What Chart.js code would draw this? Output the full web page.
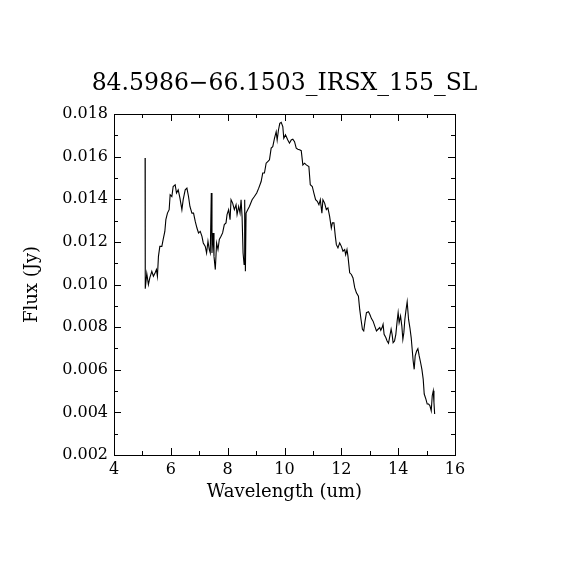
<!DOCTYPE html>
<html>
<head>
<meta charset="utf-8">
<script src="https://cdn.jsdelivr.net/npm/chart.js@4.4.1/dist/chart.umd.min.js"></script>
<style>
  body { margin: 0; background: #fff; }
  canvas { display: block; }
</style>
</head>
<body>
<canvas id="spectrumChart" width="570" height="570"></canvas>
<script>
const chartTitle = '84.5986\u221266.1503_IRSX_155_SL';

// wavelength in um
const wavelength = [5.094,5.100,5.154,5.211,5.260,5.331,5.387,5.447,5.493,5.528,5.564,5.613,5.684,5.729,5.789,5.825,5.881,5.941,5.976,6.036,
  6.082,6.153,6.199,6.259,6.319,6.389,6.435,6.506,6.566,6.622,6.672,6.742,6.799,6.859,6.919,6.975,7.035,7.095,7.141,7.212,
  7.258,7.307,7.353,7.388,7.424,7.448,7.484,7.519,7.565,7.611,7.660,7.706,7.766,7.822,7.882,7.942,7.978,8.034,8.084,8.119,
  8.175,8.235,8.295,8.331,8.387,8.436,8.472,8.507,8.542,8.578,8.599,8.624,8.648,8.705,8.765,8.860,8.941,9.022,9.093,9.178,
  9.234,9.294,9.354,9.411,9.471,9.531,9.587,9.647,9.707,9.742,9.788,9.834,9.884,9.940,9.975,10.035,10.116,10.176,10.236,10.293,
  10.353,10.413,10.469,10.529,10.589,10.646,10.706,10.766,10.858,10.907,10.978,11.034,11.094,11.154,11.211,11.260,11.316,11.352,11.412,11.472,
  11.528,11.588,11.648,11.684,11.740,11.789,11.825,11.881,11.941,12.001,12.058,12.118,12.153,12.199,12.234,12.294,12.354,12.411,12.471,12.531,
  12.601,12.647,12.693,12.742,12.788,12.834,12.884,12.955,13.000,13.060,13.117,13.177,13.236,13.293,13.353,13.388,13.434,13.469,13.505,13.565,
  13.611,13.660,13.706,13.752,13.787,13.822,13.872,13.918,13.964,13.999,14.034,14.084,14.129,14.165,14.200,14.235,14.271,14.317,14.366,14.412,
  14.458,14.493,14.528,14.564,14.599,14.649,14.694,14.740,14.789,14.835,14.881,14.917,14.976,15.022,15.072,15.118,15.164,15.199,15.235,15.259,
  15.284];

// flux in Jy
const flux = [0.01593,0.00980,0.01052,0.01000,0.01031,0.01062,0.01039,0.01055,0.01070,0.01039,0.01132,0.01179,0.01179,0.01211,0.01249,0.01304,0.01335,0.01351,0.01421,0.01413,
  0.01460,0.01468,0.01429,0.01444,0.01406,0.01351,0.01398,0.01444,0.01452,0.01413,0.01366,0.01335,0.01335,0.01296,0.01265,0.01242,0.01249,0.01226,0.01195,0.01179,
  0.01148,0.01203,0.01164,0.01148,0.01429,0.01148,0.01242,0.01132,0.01070,0.01195,0.01164,0.01211,0.01226,0.01242,0.01281,0.01289,0.01328,0.01351,0.01304,0.01398,
  0.01382,0.01351,0.01374,0.01328,0.01366,0.01335,0.01398,0.01320,0.01148,0.01094,0.01398,0.01062,0.01335,0.01351,0.01366,0.01398,0.01413,0.01429,0.01452,0.01483,
  0.01523,0.01523,0.01569,0.01577,0.01585,0.01640,0.01647,0.01686,0.01717,0.01678,0.01725,0.01756,0.01761,0.01741,0.01686,0.01702,0.01678,0.01663,0.01678,0.01682,
  0.01670,0.01640,0.01635,0.01632,0.01628,0.01561,0.01569,0.01561,0.01553,0.01468,0.01460,0.01429,0.01398,0.01390,0.01374,0.01398,0.01335,0.01398,0.01382,0.01351,
  0.01359,0.01320,0.01265,0.01289,0.01289,0.01226,0.01187,0.01172,0.01195,0.01179,0.01156,0.01164,0.01140,0.01164,0.01132,0.01055,0.01047,0.01031,0.00985,0.00961,
  0.00945,0.00883,0.00836,0.00790,0.00782,0.00828,0.00868,0.00872,0.00860,0.00840,0.00828,0.00805,0.00782,0.00790,0.00798,0.00785,0.00798,0.00813,0.00766,0.00751,
  0.00735,0.00724,0.00758,0.00790,0.00766,0.00727,0.00735,0.00766,0.00828,0.00868,0.00821,0.00852,0.00805,0.00743,0.00774,0.00836,0.00875,0.00919,0.00836,0.00798,
  0.00751,0.00696,0.00641,0.00602,0.00665,0.00688,0.00699,0.00665,0.00634,0.00602,0.00556,0.00486,0.00462,0.00439,0.00439,0.00431,0.00407,0.00478,0.00501,0.00447,
  0.00392];

// axis ranges and tick marks
const xMajorTicks = [4, 6, 8, 10, 12, 14, 16];
const xMinorTicks = [5, 7, 9, 11, 13, 15];
const yMajorTicks = [0.002, 0.004, 0.006, 0.008, 0.010, 0.012, 0.014, 0.016, 0.018];
const yMinorTicks = [0.003, 0.005, 0.007, 0.009, 0.011, 0.013, 0.015, 0.017];

const fontFamily = '"DejaVu Serif", "Liberation Serif", serif';

// box, inward ticks on all four sides, and the title over the plot
const framePlugin = {
    id: 'frame',
    afterDraw(chart) {
        const ctx = chart.ctx;
        const a = chart.chartArea;
        const xs = chart.scales.x;
        const ys = chart.scales.y;
        ctx.save();
        ctx.strokeStyle = '#000';
        ctx.lineWidth = 1;
        ctx.strokeRect(Math.round(a.left) + 0.5, Math.round(a.top) + 0.5,
            Math.round(a.right - a.left), Math.round(a.bottom - a.top));
        ctx.beginPath();
        const xTick = (v, len) => {
            const px = Math.round(xs.getPixelForValue(v)) + 0.5;
            ctx.moveTo(px, a.bottom); ctx.lineTo(px, a.bottom - len);
            ctx.moveTo(px, a.top); ctx.lineTo(px, a.top + len);
        };
        const yTick = (v, len) => {
            const py = Math.round(ys.getPixelForValue(v)) + 0.5;
            ctx.moveTo(a.left, py); ctx.lineTo(a.left + len, py);
            ctx.moveTo(a.right, py); ctx.lineTo(a.right - len, py);
        };
        xMajorTicks.forEach(v => xTick(v, 7));
        xMinorTicks.forEach(v => xTick(v, 4));
        yMajorTicks.forEach(v => yTick(v, 7));
        yMinorTicks.forEach(v => yTick(v, 4));
        ctx.stroke();

        ctx.fillStyle = '#000';
        ctx.font = '23.5px ' + fontFamily;
        ctx.textAlign = 'center';
        ctx.textBaseline = 'middle';
        ctx.fillText(chartTitle, (a.left + a.right) / 2, 84);
        ctx.restore();
    }
};

const spectrumCtx = document.getElementById('spectrumChart').getContext('2d');
const spectrumChart = new Chart(spectrumCtx, {
    type: 'scatter',
    data: {
        datasets: [{
            data: wavelength.map((w, i) => ({ x: w, y: flux[i] })),
            showLine: true,
            borderColor: '#000',
            borderWidth: 1.1,
            pointRadius: 0,
            pointHoverRadius: 0,
            tension: 0,
        }],
    },
    options: {
        responsive: false,
        animation: false,
        devicePixelRatio: 1,
        layout: { padding: { top: 114, right: 115, left: 0, bottom: 0 } },
        plugins: { legend: { display: false }, tooltip: { enabled: false } },
        scales: {
            x: {
                type: 'linear',
                min: 4,
                max: 16,
                afterFit: (s) => { s.height = 115; },
                afterBuildTicks: (s) => { s.ticks = xMajorTicks.map(v => ({ value: v })); },
                grid: { display: false, drawTicks: false },
                border: { display: false },
                ticks: {
                    padding: 5,
                    color: '#000',
                    font: { family: fontFamily, size: 16 },
                    callback: (v) => String(v),
                },
                title: {
                    display: true,
                    text: 'Wavelength (um)',
                    color: '#000',
                    font: { family: fontFamily, size: 18 },
                    padding: { top: 0, bottom: 67 },
                },
            },
            y: {
                type: 'linear',
                min: 0.002,
                max: 0.018,
                afterFit: (s) => { s.width = 114; },
                afterBuildTicks: (s) => { s.ticks = yMajorTicks.map(v => ({ value: v })); },
                grid: { display: false, drawTicks: false },
                border: { display: false },
                ticks: {
                    padding: 6,
                    color: '#000',
                    font: { family: fontFamily, size: 16 },
                    callback: (v) => v.toFixed(3),
                },
                title: {
                    display: true,
                    text: 'Flux (Jy)',
                    color: '#000',
                    font: { family: fontFamily, size: 18 },
                    padding: { top: 22, bottom: 0 },
                },
            },
        },
    },
    plugins: [framePlugin],
});
</script>
</body>
</html>
